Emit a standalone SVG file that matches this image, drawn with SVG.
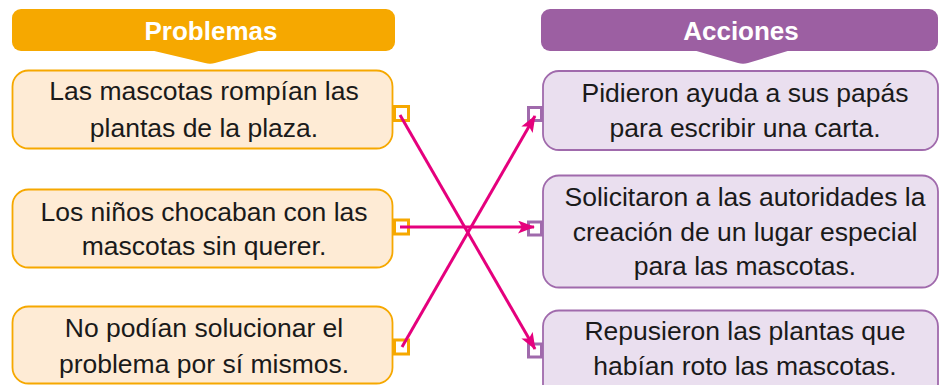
<svg xmlns="http://www.w3.org/2000/svg" width="940" height="385" viewBox="0 0 940 385">
<style>
.hdrO{fill:#F6A800}
.hdrP{fill:#9C5FA2}
.boxO{fill:#FEEBD5;stroke:#F6A800;stroke-width:1.8}
.boxP{fill:#EADFEF;stroke:#A06AAC;stroke-width:1.8}
.sqO{fill:#fff;stroke:#F6A800;stroke-width:3}
.sqP{fill:#fff;stroke:#A06AAC;stroke-width:3}
.ht{font-family:"Liberation Sans",Arial,sans-serif;font-size:26px;font-weight:bold;fill:#fff;text-anchor:middle}
.t{font-family:"Liberation Sans",Arial,sans-serif;font-size:26.5px;fill:#1a1a1a;text-anchor:middle}
.c{stroke:#E5007D;stroke-width:3;fill:none;marker-end:url(#ah)}
</style>
<defs>
<marker id="ah" markerUnits="userSpaceOnUse" markerWidth="18" markerHeight="14" refX="16" refY="6.5" orient="auto">
<path d="M0,0 L17,6.5 L0,13 L4,6.5 Z" fill="#E5007D"/>
</marker>
</defs>
<g id="header-problemas">
<rect class="hdrO" x="12" y="9" width="383" height="42" rx="9"/>
<path class="hdrO" d="M150,50 L205,63 Q210,64.5 215,63 L262,50 Z"/>
<text class="ht" x="211" y="40">Problemas</text>
</g>
<g id="header-acciones">
<rect class="hdrP" x="541" y="9" width="397" height="42" rx="9"/>
<path class="hdrP" d="M693,50 L738,63 Q743,64.5 748,63 L791,50 Z"/>
<text class="ht" x="741" y="40">Acciones</text>
</g>
<g id="p1">
<rect class="boxO" x="12.5" y="70.5" width="380" height="78" rx="16"/>
<rect class="sqO" x="394.5" y="106.5" width="14" height="14"/>
<text class="t" x="204" y="100">Las mascotas rompían las</text>
<text class="t" x="204" y="137">plantas de la plaza.</text>
</g>
<g id="p2">
<rect class="boxO" x="12.5" y="189.5" width="380" height="78" rx="16"/>
<rect class="sqO" x="394.5" y="220" width="14" height="14"/>
<text class="t" x="204" y="221">Los niños chocaban con las</text>
<text class="t" x="204" y="255">mascotas sin querer.</text>
</g>
<g id="p3">
<rect class="boxO" x="12.5" y="306.5" width="380" height="77" rx="16"/>
<rect class="sqO" x="394.5" y="340" width="14" height="14"/>
<text class="t" x="204" y="337">No podían solucionar el</text>
<text class="t" x="204" y="373">problema por sí mismos.</text>
</g>
<g id="a1">
<rect class="boxP" x="543" y="71" width="395" height="79" rx="16"/>
<rect class="sqP" x="528.5" y="107.5" width="13" height="13"/>
<text class="t" x="745" y="102">Pidieron ayuda a sus papás</text>
<text class="t" x="745" y="137">para escribir una carta.</text>
</g>
<g id="a2">
<rect class="boxP" x="543" y="175.5" width="395" height="112" rx="16"/>
<rect class="sqP" x="528.5" y="222" width="13" height="13"/>
<text class="t" x="745" y="206">Solicitaron a las autoridades la</text>
<text class="t" x="745" y="241">creación de un lugar especial</text>
<text class="t" x="745" y="275">para las mascotas.</text>
</g>
<g id="a3">
<rect class="boxP" x="543" y="310.5" width="395" height="90" rx="16"/>
<rect class="sqP" x="528.5" y="344" width="13" height="13"/>
<text class="t" x="745" y="340">Repusieron las plantas que</text>
<text class="t" x="745" y="375">habían roto las mascotas.</text>
</g>
<g id="connectors">
<line class="c" x1="400" y1="115" x2="535" y2="349"/>
<line class="c" x1="400" y1="227" x2="534" y2="227"/>
<line class="c" x1="402" y1="347" x2="535" y2="116"/>
</g>
</svg>
